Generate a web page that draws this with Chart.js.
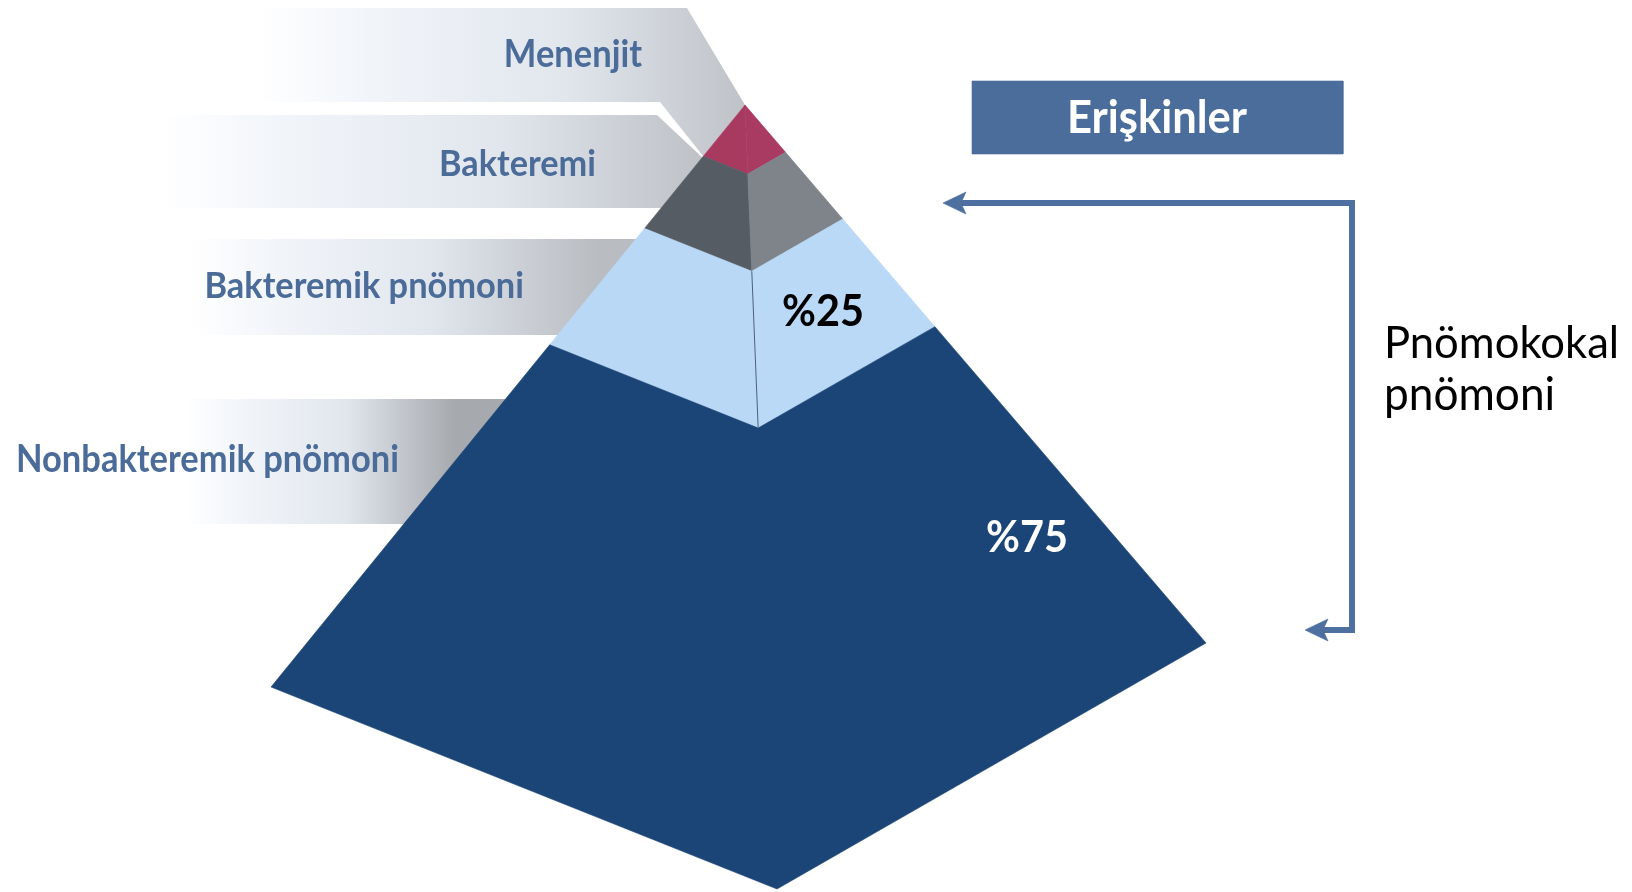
<!DOCTYPE html>
<html>
<head>
<meta charset="utf-8">
<script src="https://cdn.jsdelivr.net/npm/chart.js@4.4.1/dist/chart.umd.min.js"></script>
<style>
  html, body { margin: 0; padding: 0; background: #fff; overflow: hidden; }
  canvas { display: block; }
</style>
</head>
<body>
<canvas id="pyramid" width="1632" height="892"></canvas>
<script>
// Layers of the pyramid, top to bottom
const layerNames = ["Menenjit", "Bakteremi", "Bakteremik pnömoni", "Nonbakteremik pnömoni"];
// where each layer ends, as a fraction of the way from apex to base
const layerBreaks = [0.088, 0.212, 0.412, 1.0];
const leftFaceColors = ["#a8395f", "#565c63", "#b9d8f6", "#1b4576"];
const rightFaceColors = ["#a93a61", "#7e848a", "#b9d9f7", "#1b4576"];

// share of pneumococcal pneumonia
const shareLabels = ["%25", "%75"];

const groupTitle = "Erişkinler";
const bracketLabel = ["Pnömokokal", "pnömoni"];

// pyramid corners (x/y scales run in canvas pixels)
const apex = { x: 745, y: 105 };
const baseLeft = { x: 271, y: 687 };
const baseFront = { x: 777, y: 889 };
const baseRight = { x: 1206, y: 643 };

// callout ribbons behind the pyramid
const bandTop = [8, 115, 239, 399];
const bandBottom = [102, 208, 335, 524];
const bandFade = [255, 160, 190, 185];

const labelBlue = "#4b6b98";
const boxBlue = "#4a6d9b";
const arrowBlue = "#4d70a0";

function along(p, t) {
  return { x: apex.x + (p.x - apex.x) * t, y: apex.y + (p.y - apex.y) * t };
}

function poly(points, color, extra) {
  return Object.assign({
    data: points.concat([points[0]]),
    showLine: true,
    fill: "shape",
    backgroundColor: color,
    borderColor: typeof color === "string" ? color : "rgba(0,0,0,0)",
    borderWidth: typeof color === "string" ? 0.6 : 0,
    pointRadius: 0,
    tension: 0
  }, extra || {});
}

function bandGradient(x0, x1, dark) {
  return (ctx) => {
    const chart = ctx.chart;
    if (!chart.chartArea) return "#dfe4ea";
    const xs = chart.scales.x;
    const g = chart.ctx.createLinearGradient(xs.getPixelForValue(x0), 0, xs.getPixelForValue(x1), 0);
    g.addColorStop(0, "rgba(255,255,255,1)");
    g.addColorStop(0.22, "#f1f5fa");
    g.addColorStop(0.6, "#e1e6ed");
    g.addColorStop(1, dark);
    return g;
  };
}

function buildBands() {
  const redCorner = along(baseLeft, layerBreaks[0]);
  const grayFront = along(baseFront, layerBreaks[1]);
  const out = [];
  layerNames.forEach((name, i) => {
    const top = bandTop[i], bot = bandBottom[i], fs = bandFade[i];
    let pts;
    if (i === 0) {
      pts = [{ x: fs, y: top }, { x: 687, y: top }, apex, redCorner, { x: 660, y: bot }, { x: fs, y: bot }];
    } else if (i === 1) {
      pts = [{ x: fs, y: top }, { x: 657, y: top }, { x: redCorner.x + 2, y: redCorner.y + 4 }, grayFront, { x: grayFront.x, y: bot }, { x: fs, y: bot }];
    } else {
      const inner = along(baseFront, layerBreaks[i]).x;
      pts = [{ x: fs, y: top }, { x: inner, y: top }, { x: inner, y: bot }, { x: fs, y: bot }];
    }
    // gradient runs to where the pyramid's left edge cuts the band
    const edgeT = Math.min(1, Math.max(0, ((top + bot) / 2 - apex.y) / (baseLeft.y - apex.y)));
    const edgeX = along(baseLeft, edgeT).x;
    const dark = i === 3 ? "#a6aaaf" : "#b9bdc2";
    out.push(poly(pts, bandGradient(fs, i < 2 ? edgeX + 30 : edgeX, dark)));
  });
  return out;
}

function buildFaces() {
  const out = [];
  layerBreaks.forEach((t1, i) => {
    const t0 = i === 0 ? 0 : layerBreaks[i - 1];
    const l0 = along(baseLeft, t0), l1 = along(baseLeft, t1);
    const f0 = along(baseFront, t0), f1 = along(baseFront, t1);
    const r0 = along(baseRight, t0), r1 = along(baseRight, t1);
    if (leftFaceColors[i] === rightFaceColors[i]) {
      // both faces share a colour: one band, no seam on the ridge
      out.push(poly([l0, l1, f1, r1, r0, f0], leftFaceColors[i]));
    } else {
      out.push(poly([l0, l1, f1, f0], leftFaceColors[i]));
      out.push(poly([f0, f1, r1, r0], rightFaceColors[i]));
    }
  });
  // thin ridge line on the light blue layer
  out.push({
    data: [along(baseFront, layerBreaks[1]), along(baseFront, layerBreaks[2])],
    showLine: true, fill: false, borderColor: "#4d607a", borderWidth: 1, pointRadius: 0
  });
  return out;
}

function buildBracket() {
  const y0 = 203, y1 = 630, xv = 1352;
  return [
    { data: [{ x: 958, y: y0 }, { x: xv, y: y0 }, { x: xv, y: y1 }, { x: 1320, y: y1 }],
      showLine: true, fill: false, borderColor: arrowBlue, borderWidth: 6, pointRadius: 0,
      borderJoinStyle: "miter", borderCapStyle: "butt" },
    poly([{ x: 943, y: y0 }, { x: 966, y: y0 - 11 }, { x: 961, y: y0 }, { x: 966, y: y0 + 11 }], arrowBlue),
    poly([{ x: 1305, y: y1 }, { x: 1328, y: y1 - 11 }, { x: 1323, y: y1 }, { x: 1328, y: y1 + 11 }], arrowBlue),
    poly([{ x: 972, y: 81 }, { x: 1343, y: 81 }, { x: 1343, y: 154 }, { x: 972, y: 154 }], boxBlue)
  ];
}

// text: anchor x, baseline y, advance width the font is sized to, vertical stretch
const textItems = [
  { text: layerNames[0], x: 642, y: 67, w: 138, align: "right", weight: 700, color: labelBlue, sy: 1.08 },
  { text: layerNames[1], x: 596, y: 176, w: 157, align: "right", weight: 700, color: labelBlue, sy: 1.08 },
  { text: layerNames[2], x: 524, y: 298, w: 320, align: "right", weight: 700, color: labelBlue, sy: 1.08 },
  { text: layerNames[3], x: 16, y: 472, w: 383, align: "left", weight: 700, color: labelBlue, sy: 1.08 },
  { text: shareLabels[0], x: 823, y: 326, w: 82, align: "center", weight: 700, color: "#000000", sy: 1.05 },
  { text: shareLabels[1], x: 1027, y: 552, w: 82, align: "center", weight: 700, color: "#ffffff", sy: 1.05 },
  { text: groupTitle, x: 1157, y: 133, w: 180, align: "center", weight: 700, color: "#ffffff", sy: 1.05 },
  { text: bracketLabel[0], x: 1384, y: 358, w: 235, align: "left", weight: 400, color: "#000000", sy: 1.04 },
  { text: bracketLabel[1], x: 1384, y: 410, w: 171, align: "left", weight: 400, color: "#000000", sy: 1.04 }
];

const textPlugin = {
  id: "pyramidText",
  afterDatasetsDraw(chart) {
    const ctx = chart.ctx;
    const xs = chart.scales.x, ys = chart.scales.y;
    textItems.forEach(item => {
      ctx.save();
      ctx.font = `${item.weight} 100px Lato`;
      const size = 100 * item.w / ctx.measureText(item.text).width;
      ctx.font = `${item.weight} ${size.toFixed(1)}px Lato`;
      ctx.fillStyle = item.color;
      ctx.textAlign = item.align;
      ctx.textBaseline = "alphabetic";
      ctx.translate(xs.getPixelForValue(item.x), ys.getPixelForValue(item.y));
      ctx.scale(1, item.sy);
      ctx.fillText(item.text, 0, 0);
      ctx.restore();
    });
  }
};

// painted in this order; the first entry ends up at the back
const layers = buildBands().concat(buildFaces(), buildBracket());
const datasets = layers.map((d, i) => Object.assign(d, { order: layers.length - i }));

new Chart(document.getElementById("pyramid"), {
  type: "scatter",
  data: { datasets },
  options: {
    responsive: false,
    animation: false,
    events: [],
    layout: { padding: 0 },
    plugins: { legend: { display: false }, tooltip: { enabled: false } },
    scales: {
      x: { type: "linear", min: 0, max: 1632, display: false },
      y: { type: "linear", min: 0, max: 892, reverse: true, display: false }
    }
  },
  plugins: [textPlugin]
});
</script>
</body>
</html>
